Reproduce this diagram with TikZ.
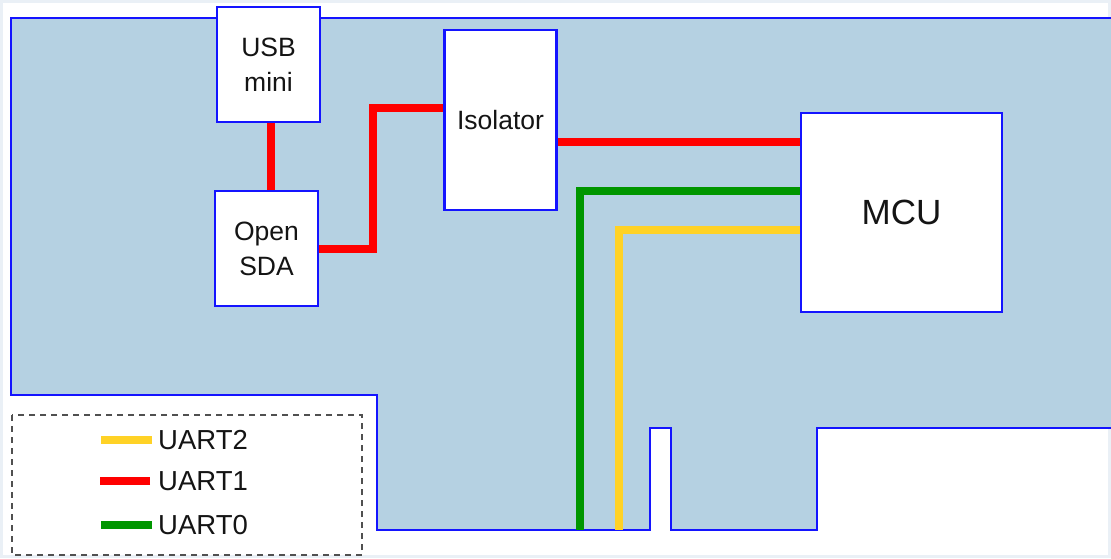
\documentclass[tikz,border=0pt]{standalone}
\usepackage{fontspec}
\setmainfont{Liberation Sans}
\pgfdeclarelayer{board}
\pgfdeclarelayer{wires}
\pgfsetlayers{board,wires,main}
\definecolor{boardfill}{RGB}{181,209,226}
\definecolor{bblue}{RGB}{20,20,255}
\definecolor{ured}{RGB}{255,0,0}
\definecolor{ugreen}{RGB}{0,150,0}
\definecolor{uyellow}{RGB}{255,210,38}
\definecolor{frame}{RGB}{234,240,246}
\definecolor{legdash}{RGB}{80,80,80}
\definecolor{txt}{RGB}{20,20,20}
\begin{document}
\begin{tikzpicture}[x=1pt,y=-1pt,
  blk/.style={draw=bblue,line width=2.8pt,fill=white,inner sep=0pt,align=center,text=txt,
    font=\fontsize{26.5}{35}\selectfont},
  wire/.style={line width=8pt},
  uart1/.style={wire,draw=ured},
  uart0/.style={wire,draw=ugreen},
  uart2/.style={wire,draw=uyellow},
  legtext/.style={anchor=west,inner sep=0pt,text=txt,font=\fontsize{27.5}{30}\selectfont}]
\useasboundingbox (0,0) rectangle (1111,558);
% board
\begin{pgfonlayer}{board}
\draw[frame,line width=3pt] (1.5,1.5) rectangle (1109.5,556.5);
\fill[boardfill] (1112,18) -- (11,18) -- (11,395) -- (377,395) -- (377,530) -- (650,530) -- (650,428)
  -- (671,428) -- (671,530) -- (817,530) -- (817,428) -- (1112,428) -- cycle;
\draw[bblue,line width=2.8pt] (1112,18) -- (11,18) -- (11,395) -- (377,395) -- (377,530) -- (650,530) -- (650,428)
  -- (671,428) -- (671,530) -- (817,530) -- (817,428) -- (1112,428);
\end{pgfonlayer}
% blocks
\node[blk,minimum width=103pt,minimum height=115pt] (usb) at (268.5,64.5) {USB\\mini};
\node[blk,minimum width=103pt,minimum height=115pt] (sda) at (266.5,248.5) {Open\\SDA};
\node[blk,minimum width=112pt,minimum height=180pt] (iso) at (500.5,120) {Isolator};
\node[blk,minimum width=201pt,minimum height=199pt,font=\fontsize{35}{40}\selectfont] (mcu) at (901.5,212.5) {MCU};
% wires
\coordinate (r1) at (373,108);
\coordinate (y1) at (0,142);
\coordinate (g1) at (580,530);
\coordinate (k1) at (619,530);
\begin{pgfonlayer}{wires}
\draw[uart1] (usb.south -| 271,0) -- (sda.north -| 271,0);
\draw[uart1] (sda.east) -| (r1) -- (r1 -| iso.west);
\draw[uart1] (iso.east |- y1) -- (mcu.west |- y1);
\draw[uart0] (mcu.west |- 0,191) -| (g1);
\draw[uart2] (mcu.west |- 0,230) -| (k1);
\end{pgfonlayer}
% legend
\draw[legdash,line width=2pt,dash pattern=on 6pt off 5pt] (12,415) rectangle (362,555);
\node[legtext] (l2) at (158,440) {UART2};
\node[legtext] (l1) at (158,481) {UART1};
\node[legtext] (l0) at (158,525) {UART0};
\draw[uart2] (l2.west) ++(-6,0) -- ++(-51,0);
\draw[uart1] (l1.west) ++(-8,0) -- ++(-50,0);
\draw[uart0] (l0.west) ++(-6,0) -- ++(-51,0);
\end{tikzpicture}
\end{document}
